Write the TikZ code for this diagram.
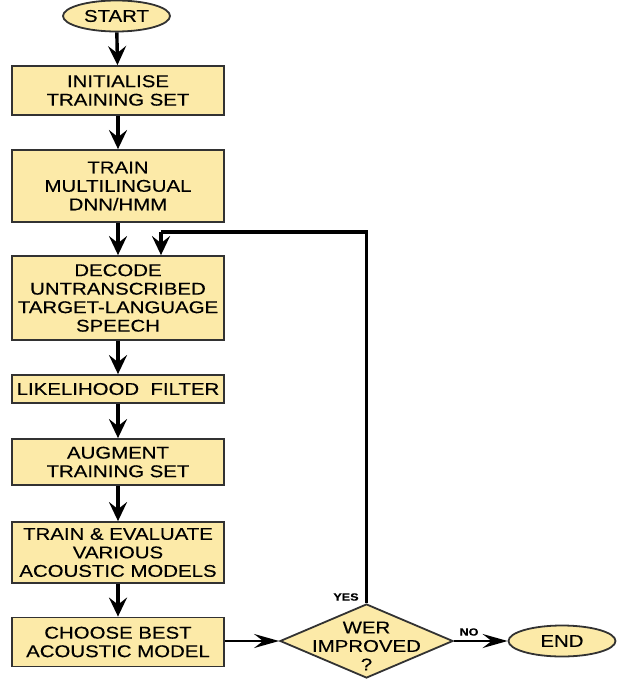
\documentclass[tikz,border=0pt]{standalone}
\usepackage{fontspec}
\setmainfont{Liberation Sans}[FakeStretch=1.2,FakeBold=0.25]
\usetikzlibrary{shapes.geometric,arrows.meta}
\definecolor{boxfill}{RGB}{252,234,168}
\definecolor{boxline}{RGB}{50,50,50}
\begin{document}
\begin{tikzpicture}[x=1pt,y=-1pt,
  box/.style={draw=boxline, line width=1.8pt, fill=boxfill, minimum width=212pt, inner sep=0pt, align=center, font=\fontsize{17}{18.5}\selectfont},
  term/.style={ellipse, draw=boxline, line width=1.8pt, fill=boxfill, minimum width=107pt, minimum height=31pt, inner sep=0pt, font=\fontsize{17}{18.5}\selectfont},
  decision/.style={diamond, draw=boxline, line width=1.8pt, fill=boxfill, minimum width=173pt, minimum height=74pt, inner sep=0pt, aspect=2.34},
  dtext/.style={align=center, inner sep=0pt, font=\fontsize{17}{18.5}\selectfont},
  small/.style={inner sep=0pt, font=\fontsize{10.5}{12}\selectfont\bfseries},
  flow/.style={line width=3.4pt, -{Stealth[length=19pt,width=18pt,inset=7pt]}},
  hflow/.style={line width=2.6pt, -{Stealth[length=25pt,width=14pt,inset=9pt]}},
  loopline/.style={line width=3.2pt}
]
\useasboundingbox (0,0) rectangle (625,679);
\node[term] (start) at (116.5,16) {START};
\node[box, minimum height=49pt] (init) at (118,90.5) {INITIALISE\\TRAINING SET};
\node[box, minimum height=72pt] (train) at (118,186) {TRAIN\\MULTILINGUAL\\DNN/HMM};
\node[box, minimum height=84pt] (decode) at (118,298) {DECODE\\UNTRANSCRIBED\\TARGET-LANGUAGE\\SPEECH};
\node[box, minimum height=28pt] (filter) at (118,389) {LIKELIHOOD\ \ FILTER};
\node[box, minimum height=46pt] (augment) at (118,462) {AUGMENT\\TRAINING SET};
\node[box, minimum height=61pt] (eval) at (118,552.5) {TRAIN \& EVALUATE\\VARIOUS\\ACOUSTIC MODELS};
\node[box, minimum height=49pt] (choose) at (118,642) {CHOOSE BEST\\ACOUSTIC MODEL};
\node[decision] (wer) at (366.5,641) {};
\node[dtext] (wertext) at (366.5,646) {WER\\IMPROVED\\?};
\node[term] (end) at (562,641) {END};
\node[small] (yes) at (346,597) {YES};
\node[small] (no) at (469,632) {NO};
\coordinate (loopc) at (161,232);

\draw[flow] (start) -- (init);
\draw[flow] (init) -- (train);
\draw[flow] (train) -- (decode);
\draw[flow] (decode) -- (filter);
\draw[flow] (filter) -- (augment);
\draw[flow] (augment) -- (eval);
\draw[flow] (eval) -- (choose);
\draw[hflow] (choose.east |- wer.west) -- (wer.west);
\draw[hflow] (wer.east) -- (end.west);
\draw[loopline] (wer.north) |- (loopc);
\draw[flow] (loopc) -- (loopc |- decode.north);
\end{tikzpicture}
\end{document}
